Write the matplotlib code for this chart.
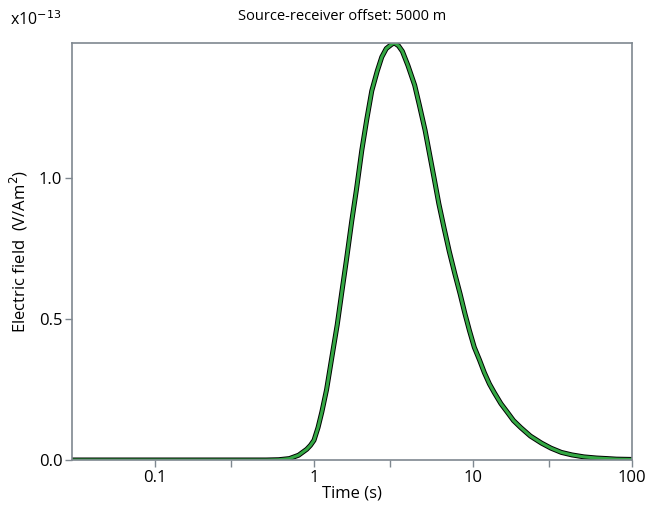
import matplotlib
matplotlib.use('Agg')
from matplotlib import pyplot as plt
from matplotlib.ticker import FixedLocator, NullFormatter

plt.rcParams['font.family'] = ['Open Sans', 'DejaVu Sans']

# time in s, field in units of 1e-13 V/Am^2
time_s = [0.03, 0.1, 0.3, 0.5, 0.6, 0.7, 0.8, 0.9, 0.95, 1.0, 1.06, 1.12, 1.2, 1.3,
          1.4, 1.5, 1.6, 1.73, 1.85, 2.0, 2.15, 2.31, 2.5, 2.67, 2.85, 3.08, 3.2,
          3.4, 3.6, 3.9, 4.3, 4.6, 5.0, 5.7, 6.1, 6.6, 7.1, 7.7, 8.3, 8.9, 9.5,
          10.2, 11.0, 11.8, 12.7, 13.6, 15.0, 16.7, 18.0, 20.0, 23.0, 27.0, 31.0,
          36.0, 42.0, 50.0, 60.0, 70.0, 80.0, 100.0]
field_model = [0.0, 0.0, 0.0, 0.0, 0.001, 0.005, 0.017, 0.038, 0.052, 0.07, 0.115,
               0.17, 0.25, 0.37, 0.48, 0.60, 0.71, 0.85, 0.96, 1.10, 1.21, 1.31,
               1.38, 1.43, 1.46, 1.475, 1.48, 1.47, 1.45, 1.40, 1.33, 1.26, 1.17,
               1.00, 0.91, 0.82, 0.74, 0.66, 0.59, 0.52, 0.46, 0.40, 0.355, 0.31,
               0.27, 0.24, 0.20, 0.165, 0.14, 0.115, 0.085, 0.06, 0.042, 0.027,
               0.018, 0.011, 0.007, 0.005, 0.003, 0.002]
field_check = field_model[:]

fig = plt.figure(figsize=(6.45, 5.08), dpi=100)
ax = fig.add_axes([0.1116, 0.0945, 0.868, 0.821])

ax.plot(time_s, field_model, color='black', lw=3.6, solid_joinstyle='round')
ax.plot(time_s, field_check, color='#34a844', lw=2.2, solid_joinstyle='round')

ax.set_xscale('log')
ax.set_xlim(0.03, 100)
ax.set_ylim(0, 1.48)
ax.xaxis.set_major_locator(FixedLocator([0.1, 1, 10, 100]))
ax.xaxis.set_minor_locator(FixedLocator([0.3, 3, 30]))
ax.xaxis.set_minor_formatter(NullFormatter())
ax.set_xticklabels(['0.1', '1', '10', '100'])
ax.set_yticks([0.0, 0.5, 1.0])
ax.set_yticklabels(['0.0', '0.5', '1.0'])

grey = '#7f8890'
for s in ax.spines.values():
    s.set_color(grey)
    s.set_linewidth(1.2)
ax.tick_params(which='both', direction='out', color=grey, length=5, width=1,
               labelsize=12, pad=2)

ax.set_xlabel('Time (s)', fontsize=12, labelpad=0)
ax.set_ylabel('Electric field  (V/Am$^2$)', fontsize=12, labelpad=6)
fig.text(0.53, 0.968, 'Source-receiver offset: 5000 m', ha='center', va='center',
         fontsize=10.5)
fig.text(0.015, 0.962, 'x10$^{-13}$', ha='left', va='center', fontsize=11.5)

fig.savefig('out.png', dpi=100)
plt.close(fig)
